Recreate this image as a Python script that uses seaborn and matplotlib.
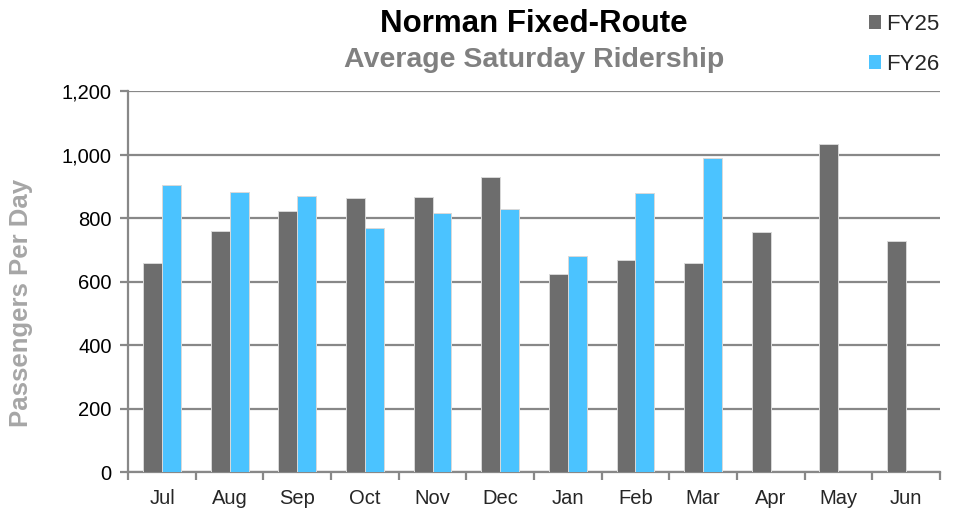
import numpy as np
import pandas as pd
import seaborn as sns
import matplotlib.pyplot as plt
from matplotlib.patches import Patch

months = ["Jul", "Aug", "Sep", "Oct", "Nov", "Dec", "Jan", "Feb", "Mar", "Apr", "May", "Jun"]
fy25 = [660, 758, 823, 862, 866, 931, 625, 667, 660, 756, 1035, 729]
fy26 = [903, 881, 871, 770, 817, 830, 680, 878, 988, np.nan, np.nan, np.nan]
series = ["FY25", "FY26"]
colors = ["#6d6d6d", "#4bc3ff"]
yticks = [0, 200, 400, 600, 800, 1000, 1200]

df = pd.DataFrame({
    "month": months * 2,
    "series": ["FY25"] * len(months) + ["FY26"] * len(months),
    "riders": fy25 + fy26,
})

sns.set_style("white")
plt.rcParams["font.family"] = ["Liberation Sans", "DejaVu Sans"]

fig = plt.figure(figsize=(9.57, 5.12), dpi=100)
ax = fig.add_axes([0.134, 0.078, 0.848, 0.744])

sns.barplot(data=df, x="month", y="riders", hue="series", order=months,
            hue_order=series, palette=colors, saturation=1, width=0.56, dodge=True,
            edgecolor="#d9d9d9", linewidth=0.7, ax=ax, legend=False, zorder=3)

ax.set_ylim(0, 1200)
ax.set_xlim(-0.5, 11.5)
ax.set_yticks(yticks)
ax.set_yticklabels(["{:,}".format(v) for v in yticks])
ax.yaxis.grid(True, color="#888888", linewidth=1.6, zorder=0)
ax.set_axisbelow(True)

for s in ["top", "right"]:
    ax.spines[s].set_visible(False)
for s in ["left", "bottom"]:
    ax.spines[s].set_color("#888888")
    ax.spines[s].set_linewidth(1.6)

ax.tick_params(axis="y", which="major", length=6, width=1.6, color="#888888",
               labelsize=14.5, labelcolor="black", left=True, pad=6)
ax.tick_params(axis="x", which="major", length=0, labelsize=14.5, pad=12)
ax.set_xticks(np.arange(-0.5, 12, 1), minor=True)
ax.tick_params(axis="x", which="minor", length=6, width=1.6, color="#888888", bottom=True)

ax.set_xlabel("")
ax.set_ylabel("Passengers Per Day", fontsize=18.5, fontweight="bold", color="#a6a6a6")
ax.yaxis.set_label_coords(-0.117, 0.444)

fig.text(0.558, 0.937, "Norman Fixed-Route", ha="center", va="baseline",
         fontsize=22.5, fontweight="bold", color="black")
fig.text(0.558, 0.870, "Average Saturday Ridership", ha="center", va="baseline",
         fontsize=20.5, fontweight="bold", color="#808080")

handles = [Patch(facecolor=c, edgecolor="none") for c in colors]
fig.legend(handles, series, loc="upper right", bbox_to_anchor=(1.002, 1.012),
           frameon=False, fontsize=16, handlelength=0.55, handleheight=0.55,
           handletextpad=0.2, labelspacing=0.85)

plt.savefig("out.png", dpi=100)
